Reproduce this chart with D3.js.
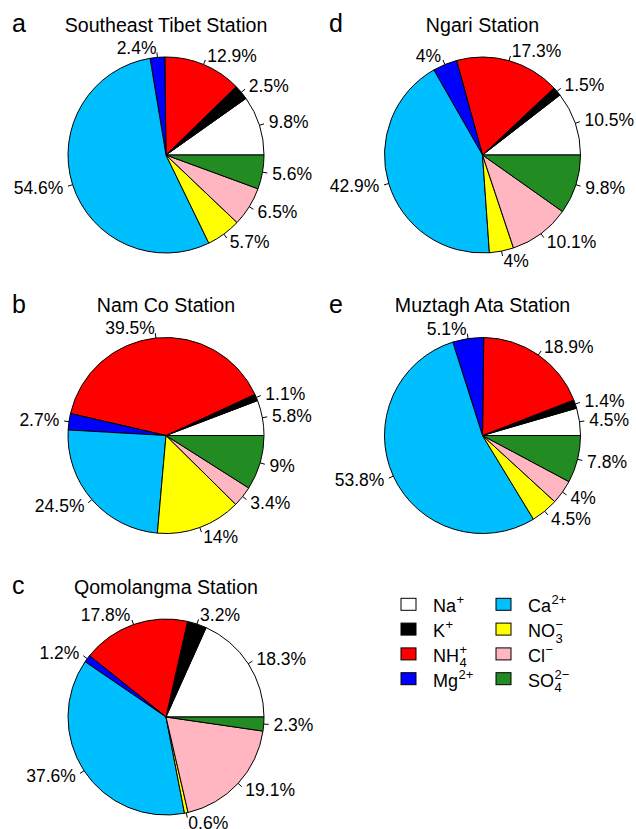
<!DOCTYPE html>
<html>
<head>
<meta charset="utf-8">
<script src="https://cdn.jsdelivr.net/npm/d3@7"></script>
<style>
	body { margin: 0; background: #fff; }
	text { font-family: "Liberation Sans", Arial, sans-serif; fill: #000; }
</style>
</head>
<body>
<script>
// ion order follows the pie order (counter-clockwise from 3 o'clock)
var ions = ['Na', 'K', 'NH4', 'Mg', 'Ca', 'NO3', 'Cl', 'SO4'];
var ionColors = ['#FFFFFF', '#000000', '#FF0000', '#0000FF', '#00BFFF', '#FFFF00', '#FFB6C1', '#228B22'];

// legend text pieces: base, subscript, superscript
var legendBase = ['Na', 'K', 'NH', 'Mg', 'Ca', 'NO', 'Cl', 'SO'];
var legendSub = ['', '', '4', '', '', '3', '', '4'];
var legendSup = ['+', '+', '+', '2+', '2+', '\u2212', '\u2212', '2\u2212'];

var stationNames = ['Southeast Tibet Station', 'Nam Co Station', 'Qomolangma Station', 'Ngari Station', 'Muztagh Ata Station'];
var panelLetters = ['a', 'b', 'c', 'd', 'e'];

var seTibet = [9.8, 2.5, 12.9, 2.4, 54.6, 5.7, 6.5, 5.6];
var namCo = [5.8, 1.1, 39.5, 2.7, 24.5, 14, 3.4, 9];
var qomolangma = [18.3, 3.2, 17.8, 1.2, 37.6, 0.6, 19.1, 2.3];
var ngari = [10.5, 1.5, 17.3, 4, 42.9, 4, 10.1, 9.8];
var muztagh = [4.5, 1.4, 18.9, 5.1, 53.8, 4.5, 4, 7.8];

var stationData = [seTibet, namCo, qomolangma, ngari, muztagh];

var W = 636, H = 829;
var R = 98;
var colX = [166, 482.5];
var rowY = [155, 435.5, 717];
// panel -> [column, row]
var panelPos = [[0, 0], [0, 1], [0, 2], [1, 0], [1, 1]];

var svg = d3.select('body').append('svg')
	.attr('width', W)
	.attr('height', H);

var pie = d3.pie()
	.sort(null)
	.startAngle(Math.PI / 2)
	.endAngle(Math.PI / 2 - 2 * Math.PI);

var arc = d3.arc().innerRadius(0).outerRadius(R);

var color = d3.scaleOrdinal().domain(ions).range(ionColors);

stationData.forEach(function(values, p) {
	var cx = colX[panelPos[p][0]];
	var cy = rowY[panelPos[p][1]];

	var rows = values.map(function(v, i) { return {ion: ions[i], value: v}; });
	var slices = pie.value(function(d) { return d.value; })(rows);

	var g = svg.append('g')
		.attr('transform', 'translate(' + cx + ',' + cy + ')');

	g.selectAll('path')
		.data(slices)
		.enter()
		.append('path')
		.attr('d', arc)
		.attr('fill', function(d) { return color(d.data.ion); })
		.attr('stroke', '#000')
		.attr('stroke-width', 1)
		.attr('stroke-linejoin', 'round');

	var lab = g.selectAll('g.lab')
		.data(slices)
		.enter()
		.append('g')
		.attr('class', 'lab');

	function mid(d) { return (d.startAngle + d.endAngle) / 2; }

	lab.append('line')
		.attr('x1', function(d) { return R * Math.sin(mid(d)); })
		.attr('y1', function(d) { return -R * Math.cos(mid(d)); })
		.attr('x2', function(d) { return 1.05 * R * Math.sin(mid(d)); })
		.attr('y2', function(d) { return -1.05 * R * Math.cos(mid(d)); })
		.attr('stroke', '#000')
		.attr('stroke-width', 1);

	lab.append('text')
		.attr('x', function(d) { return 1.1 * R * Math.sin(mid(d)); })
		.attr('y', function(d) { return -1.1 * R * Math.cos(mid(d)); })
		.attr('dy', '0.35em')
		.attr('text-anchor', function(d) { return Math.sin(mid(d)) < 0 ? 'end' : 'start'; })
		.style('font-size', '17.5px')
		.text(function(d) { return d.data.value + '%'; });

	svg.append('text')
		.attr('x', cx)
		.attr('y', cy - 123.5)
		.attr('text-anchor', 'middle')
		.style('font-size', '19.6px')
		.text(stationNames[p]);

	svg.append('text')
		.attr('x', panelPos[p][0] === 0 ? 12 : 329)
		.attr('y', cy - 123)
		.style('font-size', '25px')
		.text(panelLetters[p]);
});

// legend
var legX = [401, 496];
var legTextX = [433, 528];
var legY0 = 612.3, legStep = 24.8;

ions.forEach(function(ion, i) {
	var c = Math.floor(i / 4);
	var r = i % 4;
	var base = legY0 + r * legStep;

	svg.append('rect')
		.attr('x', legX[c])
		.attr('y', base - 14)
		.attr('width', 15)
		.attr('height', 12)
		.attr('fill', color(ion))
		.attr('stroke', '#000')
		.attr('stroke-width', 1);

	var t = svg.append('text')
		.attr('x', legTextX[c])
		.attr('y', base)
		.style('font-size', '18px')
		.text(legendBase[i]);

	var xr = legTextX[c] + t.node().getComputedTextLength() + 0.5;

	if (legendSup[i]) {
		svg.append('text')
			.attr('x', xr)
			.attr('y', base - 8)
			.style('font-size', '13px')
			.text(legendSup[i]);
	}
	if (legendSub[i]) {
		svg.append('text')
			.attr('x', xr)
			.attr('y', base + 5.5)
			.style('font-size', '13px')
			.text(legendSub[i]);
	}
});
</script>
</body>
</html>
